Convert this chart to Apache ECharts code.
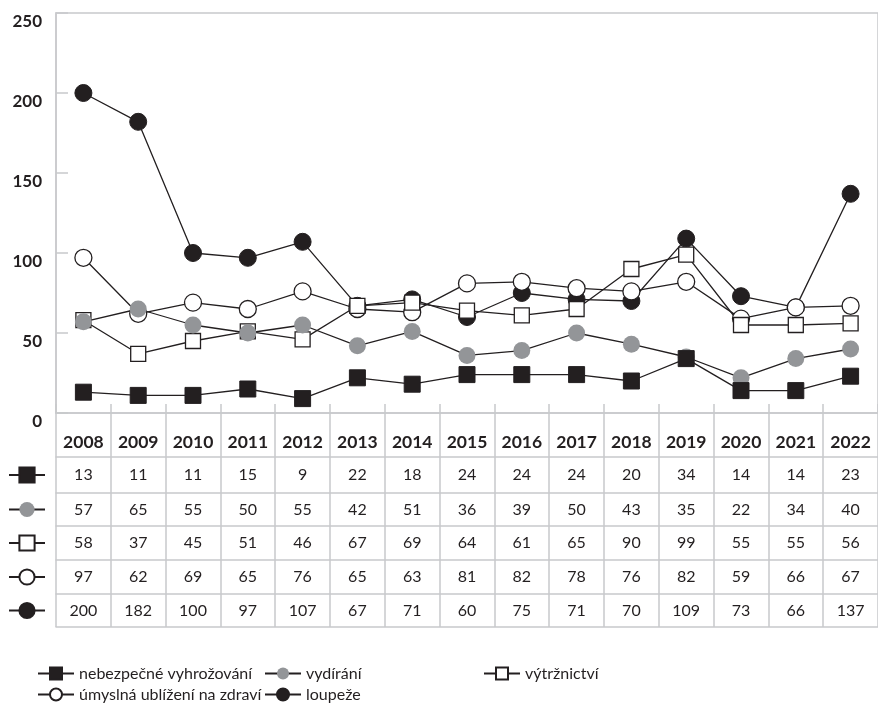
<!DOCTYPE html>
<html>
<head>
<meta charset="utf-8">
<script src="https://cdn.jsdelivr.net/npm/echarts@6/dist/echarts.min.js"></script>
<style>html,body{margin:0;padding:0;background:#fff;}#c{width:878px;height:721px;}</style>
</head>
<body>
<div id="c"></div>
<script>
const years = ['2008','2009','2010','2011','2012','2013','2014','2015','2016','2017','2018','2019','2020','2021','2022'];
const seriesNames = ['nebezpečné vyhrožování','vydírání','výtržnictví','úmyslná ublížení na zdraví','loupeže'];
const vyhrozovani = [13,11,11,15,9,22,18,24,24,24,20,34,14,14,23];
const vydirani = [57,65,55,50,55,42,51,36,39,50,43,35,22,34,40];
const vytrznictvi = [58,37,45,51,46,67,69,64,61,65,90,99,55,55,56];
const ublizeni = [97,62,69,65,76,65,63,81,82,78,76,82,59,66,67];
const loupeze = [200,182,100,97,107,67,71,60,75,71,70,109,73,66,137];
const yTicks = [0,50,100,150,200,250];

const FONT = 'Lato, "Noto Sans", sans-serif';
const INK = '#231f20';
const GRID = '#c8c9cc';
const GRAY = '#939598';

const rowData = [vyhrozovani, vydirani, vytrznictvi, ublizeni, loupeze];
const rowTops = [457, 493, 526, 560, 594];
const tableBottom = 627;
const axisY = 413;

const xAxes = [];
// main axis (plot bottom)
xAxes.push({
  type: 'category', data: years, position: 'bottom', gridIndex: 0,
  axisLine: {show: true, lineStyle: {color: GRID, width: 1.5}},
  axisTick: {show: true, inside: true, length: 9, lineStyle: {color: GRID, width: 1.5}},
  axisLabel: {show: false}
});
// header row
xAxes.push({
  type: 'category', data: years, position: 'bottom', offset: 0,
  axisLine: {show: false},
  axisTick: {show: true, length: rowTops[0] - axisY, lineStyle: {color: GRID, width: 1.5}},
  axisLabel: {show: true, margin: 29, verticalAlign: 'middle', fontFamily: FONT, fontWeight: 'bold', fontSize: 17.5, color: INK}
});
rowData.forEach((arr, i) => {
  const top = rowTops[i];
  const bottom = i < rowTops.length - 1 ? rowTops[i + 1] : tableBottom;
  const h = bottom - top;
  xAxes.push({
    type: 'category', data: years, position: 'bottom', offset: top - axisY,
    axisLine: {show: true, lineStyle: {color: GRID, width: 1.5}},
    axisTick: {show: true, length: h, lineStyle: {color: GRID, width: 1.5}},
    axisLabel: {show: true, margin: h / 2, verticalAlign: 'middle', fontFamily: FONT, fontSize: 16, color: INK,
      formatter: (v, idx) => String(arr[idx])}
  });
});
// bottom line
xAxes.push({
  type: 'category', data: years, position: 'bottom', offset: tableBottom - axisY,
  axisLine: {show: true, lineStyle: {color: GRID, width: 1.5}},
  axisTick: {show: false}, axisLabel: {show: false}
});

const styles = {
  'nebezpečné vyhrožování': {symbol: 'rect', symbolSize: 16, itemStyle: {color: INK, borderColor: INK, borderWidth: 1}},
  'vydírání': {symbol: 'circle', symbolSize: 17, itemStyle: {color: GRAY, borderColor: GRAY, borderWidth: 0}},
  'výtržnictví': {symbol: 'rect', symbolSize: 15, itemStyle: {color: '#fff', borderColor: INK, borderWidth: 1.3}},
  'úmyslná ublížení na zdraví': {symbol: 'circle', symbolSize: 17, itemStyle: {color: '#fff', borderColor: INK, borderWidth: 1.3}},
  'loupeže': {symbol: 'circle', symbolSize: 17, itemStyle: {color: INK, borderColor: INK, borderWidth: 1}}
};
const dataByName = {
  'nebezpečné vyhrožování': vyhrozovani,
  'vydírání': vydirani,
  'výtržnictví': vytrznictvi,
  'úmyslná ublížení na zdraví': ublizeni,
  'loupeže': loupeze
};
// draw order: loupeže bottom ... nebezpečné top
const drawOrder = ['loupeže','úmyslná ublížení na zdraví','výtržnictví','vydírání','nebezpečné vyhrožování'];
const series = drawOrder.map(n => Object.assign({
  name: n, type: 'line', data: dataByName[n], xAxisIndex: 0, yAxisIndex: 0,
  showAllSymbol: true, animation: false,
  lineStyle: {color: INK, width: 1.3},
  emphasis: {disabled: true}
}, styles[n]));

const legendBase = {
  orient: 'horizontal', itemWidth: 36, itemHeight: 15, itemGap: 0, padding: 0,
  textStyle: {fontFamily: FONT, fontSize: 16, color: INK},
  selectedMode: false
};
const legendPos = [
  {name: seriesNames[0], left: 37, top: 665.5},
  {name: seriesNames[1], left: 264, top: 665.5},
  {name: seriesNames[2], left: 483, top: 665.5},
  {name: seriesNames[3], left: 37, top: 686.5},
  {name: seriesNames[4], left: 264, top: 686.5}
];
const legends = legendPos.map(p => Object.assign({}, legendBase, {data: [p.name], left: p.left, top: p.top}));
// row symbols of the table
seriesNames.forEach((n, i) => {
  const top = rowTops[i];
  const bottom = i < rowTops.length - 1 ? rowTops[i + 1] : tableBottom;
  legends.push(Object.assign({}, legendBase, {
    data: [n], left: 8, top: (top + bottom) / 2 - 9.5, itemHeight: 19, formatter: () => ''
  }));
});

const chart = echarts.init(document.getElementById('c'), null, {renderer: 'canvas'});
chart.setOption({
  animation: false,
  backgroundColor: '#fff',
  textStyle: {fontFamily: FONT},
  grid: {left: 56, top: 13, width: 829, height: 400, show: true, borderColor: GRID, borderWidth: 1.5, containLabel: false},
  legend: legends,
  xAxis: xAxes,
  yAxis: {
    type: 'value', min: yTicks[0], max: yTicks[yTicks.length - 1], interval: 50,
    axisLine: {show: true, lineStyle: {color: GRID, width: 1.5}},
    axisTick: {show: true, inside: true, length: 12, lineStyle: {color: GRID, width: 1.5}},
    splitLine: {show: false},
    axisLabel: {margin: 14, verticalAlign: 'top', fontFamily: FONT, fontWeight: 'bold', fontSize: 17, color: INK}
  },
  series: series
});
</script>
</body>
</html>
